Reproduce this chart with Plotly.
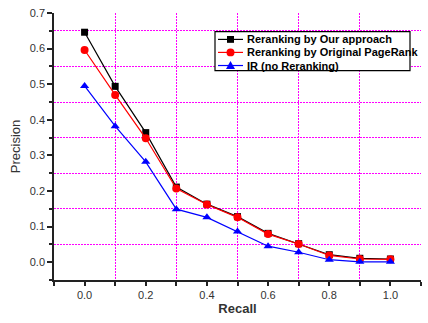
import plotly.graph_objects as go

recall = [0.0, 0.1, 0.2, 0.3, 0.4, 0.5, 0.6, 0.7, 0.8, 0.9, 1.0]
our_approach = [0.646, 0.494, 0.364, 0.211, 0.163, 0.128, 0.081, 0.052, 0.021, 0.011, 0.009]
original_pagerank = [0.596, 0.470, 0.348, 0.207, 0.162, 0.126, 0.079, 0.051, 0.019, 0.009, 0.008]
ir_no_rerank = [0.495, 0.382, 0.282, 0.149, 0.126, 0.086, 0.045, 0.028, 0.007, 0.001, 0.001]

series_names = ["Reranking by Our approach", "Reranking by Original PageRank", "IR (no Reranking)"]
series_values = [our_approach, original_pagerank, ir_no_rerank]
series_colors = ["black", "red", "blue"]
series_symbols = ["square", "circle", "triangle-up"]
series_sizes = [7, 8, 8]

W, H = 428, 323
ML, MR, MT, MB = 54, 7, 7, 43
PW, PH = W - ML - MR, H - MT - MB
FONT = "Arial, Liberation Sans, sans-serif"


def px(x):
    return (x - ML) / PW


def py(y):
    return (H - MB - y) / PH


fig = go.Figure()
for name, vals, color, symbol, size in zip(series_names, series_values, series_colors,
                                           series_symbols, series_sizes):
    fig.add_trace(go.Scatter(
        x=recall, y=vals, name=name, mode="lines+markers",
        line=dict(color=color, width=1.2),
        marker=dict(color=color, symbol=symbol, size=size),
        showlegend=False,
    ))

# Boxed legend drawn with shapes and annotations (compact row spacing)
shapes = []
annotations = []
box_l, box_r, box_t, box_b = 215, 410, 26, 66
shapes.append(dict(type="rect", xref="paper", yref="paper",
                   x0=px(box_l), x1=px(box_r), y0=py(box_b), y1=py(box_t),
                   line=dict(color="black", width=1.2), fillcolor="white", layer="above"))
row_y = [34, 47.3, 60.7]
for i, (name, color, symbol) in enumerate(zip(series_names, series_colors, series_symbols)):
    yc = row_y[i]
    shapes.append(dict(type="line", xref="paper", yref="paper",
                       x0=px(218), x1=px(243), y0=py(yc), y1=py(yc),
                       line=dict(color=color, width=1.2), layer="above"))
    cx = 230.5
    if symbol == "square":
        r = 3.5
        shapes.append(dict(type="rect", xref="paper", yref="paper",
                           x0=px(cx - r), x1=px(cx + r), y0=py(yc + r), y1=py(yc - r),
                           line=dict(color=color, width=0), fillcolor=color, layer="above"))
    elif symbol == "circle":
        r = 4
        shapes.append(dict(type="circle", xref="paper", yref="paper",
                           x0=px(cx - r), x1=px(cx + r), y0=py(yc + r), y1=py(yc - r),
                           line=dict(color=color, width=0), fillcolor=color, layer="above"))
    else:
        r = 4.5
        path = "M {:.5f} {:.5f} L {:.5f} {:.5f} L {:.5f} {:.5f} Z".format(
            px(cx - r), py(yc + 3.5), px(cx + r), py(yc + 3.5), px(cx), py(yc - 4.5))
        shapes.append(dict(type="path", xref="paper", yref="paper", path=path,
                           line=dict(color=color, width=0), fillcolor=color, layer="above"))
    annotations.append(dict(text="<b>" + name + "</b>", xref="paper", yref="paper",
                            x=px(245), y=py(yc), xanchor="left", yanchor="middle",
                            showarrow=False, font=dict(family=FONT, size=11, color="black")))

tick_font = dict(family=FONT, size=11, color="#333333")
grid_style = dict(showgrid=True, gridcolor="#ff00ff", griddash="2px,1px", gridwidth=1)

fig.update_layout(
    width=W, height=H,
    margin=dict(l=ML, r=MR, t=MT, b=MB),
    paper_bgcolor="white", plot_bgcolor="white",
    font=dict(family=FONT, color="#333333"),
    showlegend=False,
    shapes=shapes,
    annotations=annotations,
    xaxis=dict(
        range=[-0.1, 1.1], tick0=0, dtick=0.2, tickformat=".1f",
        showgrid=False, zeroline=False,
        showline=True, linecolor="#222222", linewidth=1.5,
        ticks="outside", ticklen=4, tickcolor="#222222", tickwidth=1.5,
        tickfont=tick_font,
        minor=dict(dtick=0.1, tick0=0, ticks="outside", ticklen=4, tickcolor="#222222", **grid_style),
        title=dict(text="<b>Recall</b>", font=dict(family=FONT, size=13, color="#333333"), standoff=4),
    ),
    yaxis=dict(
        range=[-0.05, 0.7], tick0=0, dtick=0.1, tickformat=".1f",
        showgrid=False, zeroline=False,
        showline=True, linecolor="#222222", linewidth=1.5,
        ticks="outside", ticklen=5, tickcolor="#222222", tickwidth=1.5,
        tickfont=tick_font,
        minor=dict(dtick=0.05, tick0=0, ticks="outside", ticklen=3, tickcolor="#222222", **grid_style),
        title=dict(text="Precision", font=dict(family=FONT, size=13, color="#333333"), standoff=6),
    ),
)

fig.write_html("out.html")
